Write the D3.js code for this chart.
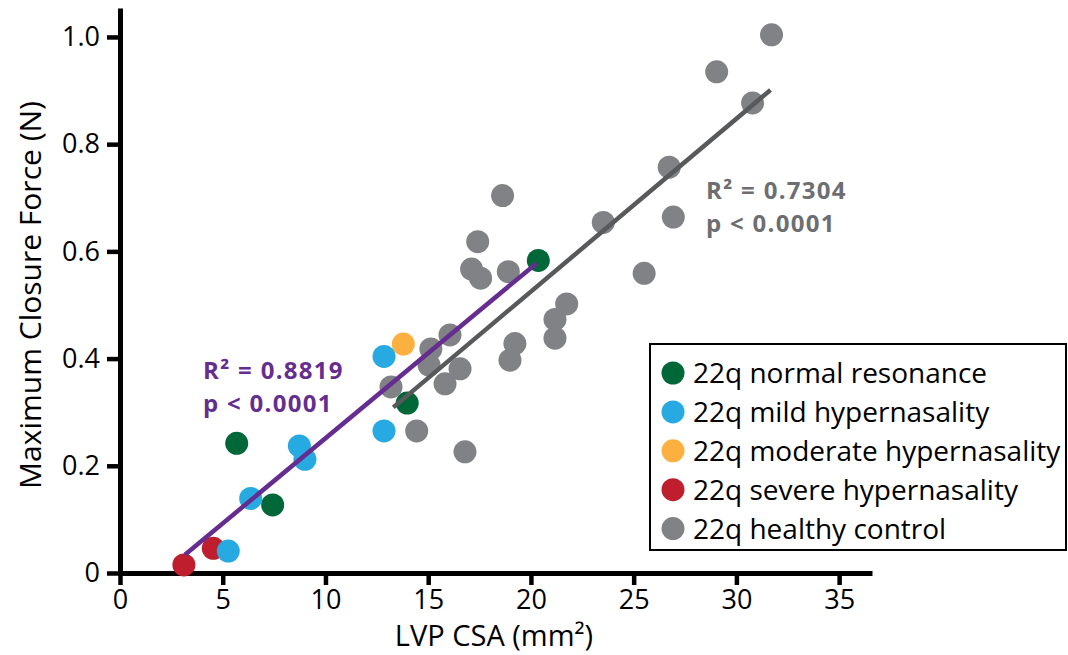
<!DOCTYPE html>
<html>
<head>
<meta charset="utf-8">
<script src="https://cdn.jsdelivr.net/npm/d3@7"></script>
<style>
  body { margin: 0; background: #fff; }
  svg text { font-family: "Open Sans", sans-serif; }
</style>
</head>
<body>
<script>
// group data, [LVP CSA (mm2), max closure force (N)]
var normalRes = [[20.36, 0.583], [13.98, 0.317], [5.68, 0.242], [7.43, 0.127]];
var mildHyper = [[12.85, 0.404], [12.85, 0.265], [8.73, 0.237], [9.00, 0.212], [6.36, 0.139], [5.27, 0.041]];
var moderateHyper = [[13.79, 0.427]];
var severeHyper = [[4.54, 0.046], [3.11, 0.015]];
var healthy = [
  [31.71, 1.004], [29.04, 0.935], [30.79, 0.877], [26.73, 0.757], [26.93, 0.664],
  [23.52, 0.654], [25.51, 0.559], [18.62, 0.704], [17.41, 0.618], [17.11, 0.567],
  [17.55, 0.550], [18.90, 0.562], [21.74, 0.502], [21.17, 0.473], [21.17, 0.438],
  [19.22, 0.428], [18.98, 0.397], [16.06, 0.444], [15.13, 0.418], [15.04, 0.388],
  [16.55, 0.381], [15.82, 0.353], [13.19, 0.347], [14.44, 0.265], [16.79, 0.226]
];

// fitted regression lines (end points)
var fit22q = [[3.16, 0.034], [20.28, 0.578]];
var fitHealthy = [[13.30, 0.309], [31.66, 0.901]];

var xTicks = [0, 5, 10, 15, 20, 25, 30, 35];
var yTicks = [0, 0.2, 0.4, 0.6, 0.8, 1.0];

var legendLabels = ["22q normal resonance", "22q mild hypernasality", "22q moderate hypernasality",
                    "22q severe hypernasality", "22q healthy control"];
var legendColors = ["#006838", "#27aae1", "#fbb040", "#be1e2d", "#808285"];

var width = 1068, height = 655;

var svg = d3.select("body").append("svg")
    .attr("width", width)
    .attr("height", height);

var x = d3.scaleLinear().domain([0, 36.6]).range([120, 872]);
var y = d3.scaleLinear().domain([0, 1.054]).range([573, 8]);

// axes
var xAxis = svg.append("g")
    .attr("transform", "translate(0," + y(0) + ")")
    .call(d3.axisBottom(x).tickValues(xTicks).tickSize(12).tickSizeOuter(0).tickPadding(5));

var yAxis = svg.append("g")
    .attr("transform", "translate(" + x(0) + ",0)")
    .call(d3.axisLeft(y).tickValues(yTicks).tickSize(13).tickSizeOuter(0).tickPadding(7)
      .tickFormat(function(d) { return d === 0 ? "0" : d3.format(".1f")(d); }));

[xAxis, yAxis].forEach(function(g) {
  g.select(".domain").attr("stroke", "#000").attr("stroke-width", 5);
  g.selectAll(".tick line").attr("stroke", "#000").attr("stroke-width", 4.5);
  g.selectAll(".tick text").attr("fill", "#000")
    .style("font-size", "27px");
});

// axis titles
svg.append("text")
    .attr("x", 494)
    .attr("y", 646)
    .attr("text-anchor", "middle")
    .style("font-size", "29px")
    .text("LVP CSA (mm²)");

svg.append("text")
    .attr("transform", "translate(41,295) rotate(-90)")
    .attr("text-anchor", "middle")
    .style("font-size", "30px")
    .text("Maximum Closure Force (N)");

// points
var groups = [
  {data: healthy, color: legendColors[4]},
  {data: severeHyper, color: legendColors[3]},
  {data: normalRes, color: legendColors[0]},
  {data: moderateHyper, color: legendColors[2]},
  {data: mildHyper, color: legendColors[1]}
];

groups.forEach(function(grp) {
  svg.append("g").selectAll("circle")
    .data(grp.data)
    .enter().append("circle")
    .attr("cx", function(d) { return x(d[0]); })
    .attr("cy", function(d) { return y(d[1]); })
    .attr("r", 11.5)
    .attr("fill", grp.color);
});

// regression lines
var line = d3.line()
    .x(function(d) { return x(d[0]); })
    .y(function(d) { return y(d[1]); });

svg.append("path").datum(fitHealthy)
    .attr("d", line)
    .attr("stroke", "#58595b")
    .attr("stroke-width", 4.5)
    .attr("fill", "none");

svg.append("path").datum(fit22q)
    .attr("d", line)
    .attr("stroke", "#662d91")
    .attr("stroke-width", 4.5)
    .attr("fill", "none");

// annotations (two lines each)
var ann = [
  {x: 203, y: 379, lines: ["R² = 0.8819", "p < 0.0001"], color: "#662d91"},
  {x: 706, y: 199, lines: ["R² = 0.7304", "p < 0.0001"], color: "#6d6e71"}
];
var annText = svg.selectAll("text.ann")
    .data(ann)
    .enter().append("text")
    .attr("class", "ann")
    .attr("x", function(d) { return d.x; })
    .attr("y", function(d) { return d.y; })
    .attr("fill", function(d) { return d.color; })
    .style("font-size", "24px")
    .style("letter-spacing", "1.3px")
    .style("font-weight", "bold");

annText.selectAll("tspan")
    .data(function(d) { return d.lines.map(function(t) { return {t: t, x: d.x}; }); })
    .enter().append("tspan")
    .attr("x", function(d) { return d.x; })
    .attr("dy", function(d, i) { return i === 0 ? 0 : 33; })
    .text(function(d) { return d.t; });

// legend
svg.append("rect")
    .attr("x", 650)
    .attr("y", 344)
    .attr("width", 416)
    .attr("height", 206)
    .attr("fill", "#fff")
    .attr("stroke", "#000")
    .attr("stroke-width", 2);

var legend = svg.append("g").selectAll("g")
    .data(legendLabels)
    .enter().append("g")
    .attr("transform", function(d, i) { return "translate(673," + (373 + i * 38.9) + ")"; });

legend.append("circle")
    .attr("r", 11.5)
    .attr("fill", function(d, i) { return legendColors[i]; });

legend.append("text")
    .attr("x", 20)
    .attr("y", 10)
    .style("font-size", "28px")
    .text(function(d) { return d; });
</script>
</body>
</html>
